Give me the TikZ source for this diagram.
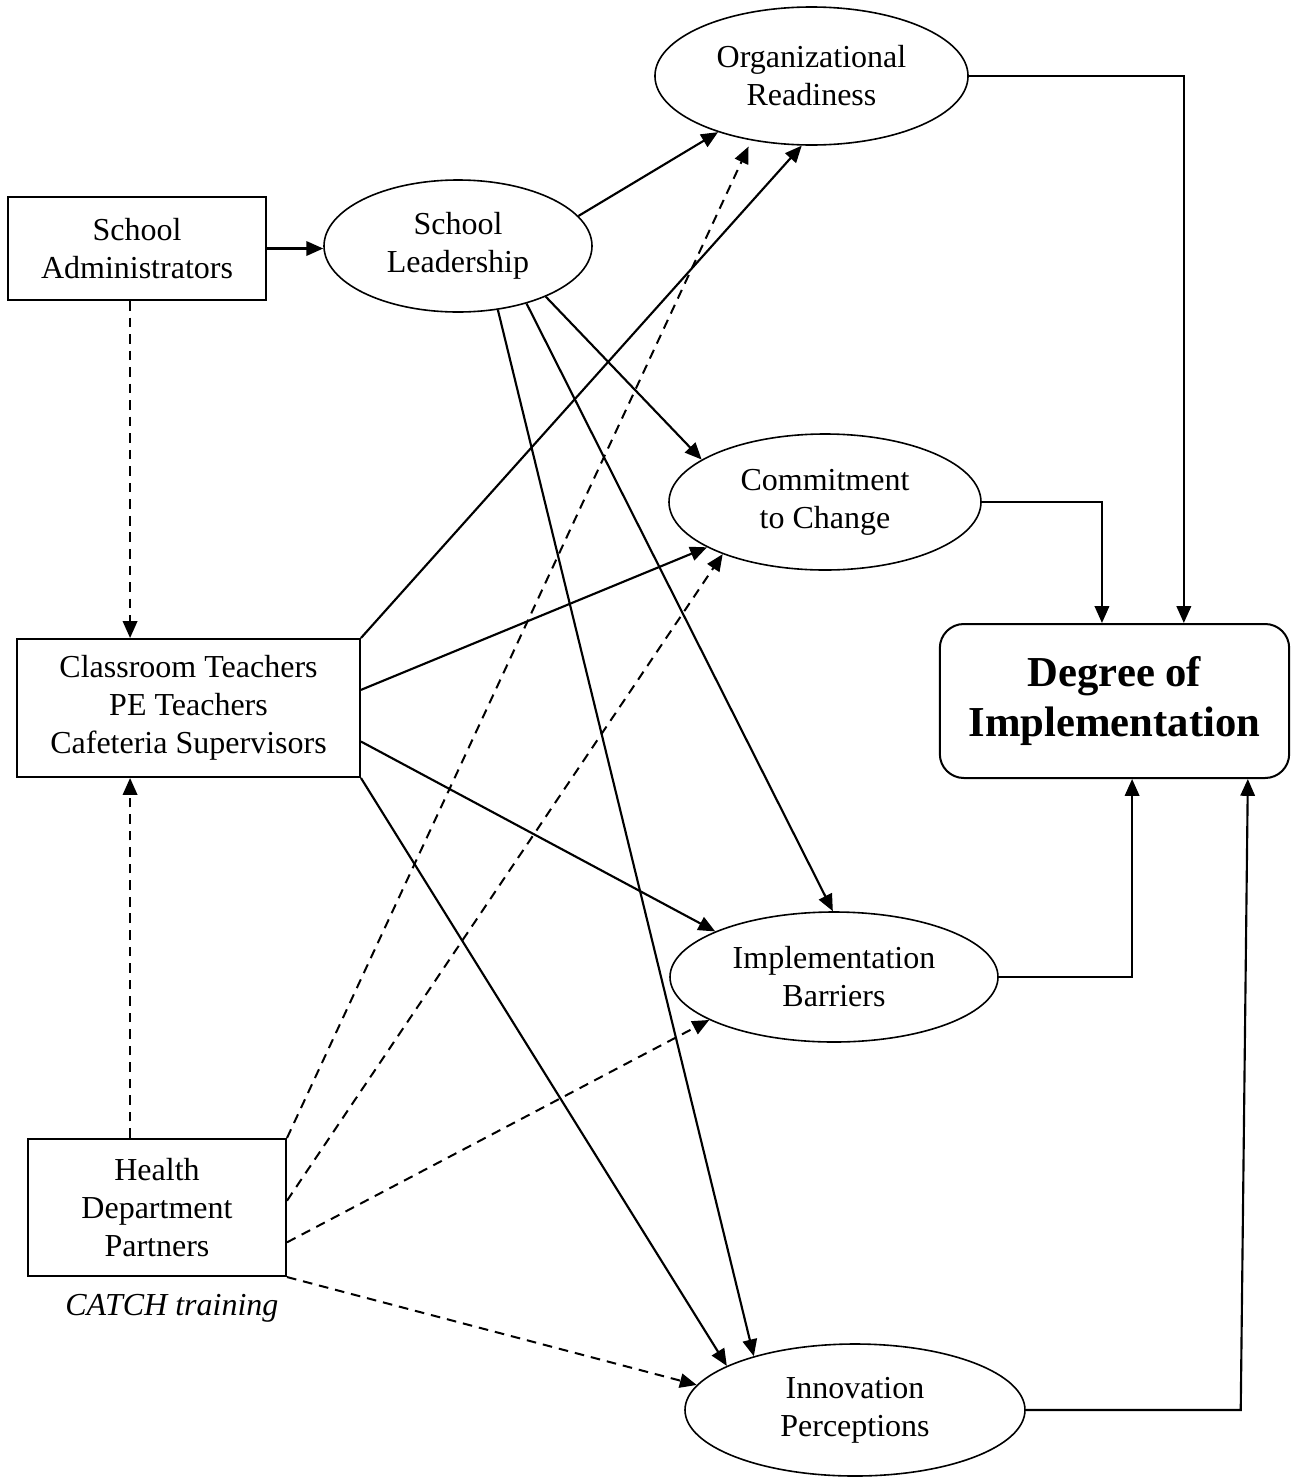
\documentclass[tikz,border=0pt]{standalone}
\usepackage{fontspec}
\setmainfont{Liberation Serif}
\usetikzlibrary{shapes.geometric,arrows.meta,positioning}

\begin{document}
\begin{tikzpicture}[x=0.375pt, y=-0.375pt,
  font=\fontsize{12}{14.25}\selectfont,
  factor/.style={ellipse, draw, line width=0.6pt, inner sep=0pt, align=center},
  actor/.style={rectangle, draw, line width=0.75pt, inner sep=0pt, align=center},
  link/.style={->, line width=0.8pt},
  train/.style={->, line width=0.75pt, dash pattern=on 3.6pt off 2.6pt}]
\tikzset{>={Triangle[length=6.3pt,width=5.4pt]}}
\useasboundingbox (0,0) rectangle (1291,1478);

% people in the schools
\node[actor, minimum width=96.75pt, minimum height=38.6pt] (adm) at (137,248.5) {School\\Administrators};
\node[actor, minimum width=128.6pt, minimum height=51.75pt] (cls) at (188.5,708) {Classroom Teachers\\PE Teachers\\Cafeteria Supervisors};
\node[actor, minimum width=96.75pt, minimum height=51.4pt] (hdp) at (157,1207.5) {Health\\Department\\Partners};
\node[below=3pt of hdp, xshift=5.6pt, font=\fontsize{12}{14.25}\selectfont\itshape] (catch) {CATCH training};

% constructs
\node[factor, minimum width=100.5pt, minimum height=49.5pt] (lead) at (458,246) {School\\Leadership};
\node[factor, minimum width=117.4pt, minimum height=51.75pt] (org) at (811.5,76) {Organizational\\Readiness};
\node[factor, minimum width=117pt, minimum height=51pt] (com) at (825,502) {Commitment\\to Change};
\node[factor, minimum width=123pt, minimum height=48.75pt] (bar) at (834,977) {Implementation\\Barriers};
\node[factor, minimum width=127.5pt, minimum height=49.5pt] (inn) at (855,1410) {Innovation\\Perceptions};

% outcome
\node[actor, rounded corners=9pt, minimum width=131pt, minimum height=57.75pt,
  font=\fontsize{16}{18.75}\selectfont\bfseries] (deg) at (1114.5,701) {Degree of\\Implementation};

% left column
\draw[link] (adm.east) -- (adm.east -| lead.west);
\draw[train] ([xshift=-2.6pt]adm.south) -- ([xshift=-2.6pt]adm.south |- cls.north);
\draw[train] ([xshift=-10.1pt]hdp.north) -- ([xshift=-10.1pt]hdp.north |- cls.south);

% leadership
\draw[link] (lead.14) -- (org.211);
\draw[link] (lead.-30) -- (com.161);
\draw[link] (lead.-40) -- (bar.91);
\draw[link] (lead.-58) -- (inn.152);

% teachers
\draw[link] (cls.north east) -- (org.-98);
\draw[link] (cls.6) -- (com.201);
\draw[link] (cls.-11) -- (bar.159);
\draw[link] (cls.south east) -- (inn.161);

% health department
\draw[train, shorten >=2.5pt] (hdp.north east) -- (org.-133);
\draw[train] (hdp.3) -- (com.207);
\draw[train] (hdp.-15) -- (bar.199);
\draw[train] (hdp.south east) -- (inn.171);

% to the outcome
\draw[link] (org.east) -| ([xshift=26pt]deg.north);
\draw[link] (com.east) -| ([xshift=-4.7pt]deg.north);
\draw[link] (bar.east) -| ([xshift=6.6pt]deg.south);
\coordinate (innturn) at ([xshift=80.6pt]inn.east);
\draw[link] (inn.east) -- (innturn) -- ([xshift=50pt]deg.south);

\end{tikzpicture}
\end{document}
